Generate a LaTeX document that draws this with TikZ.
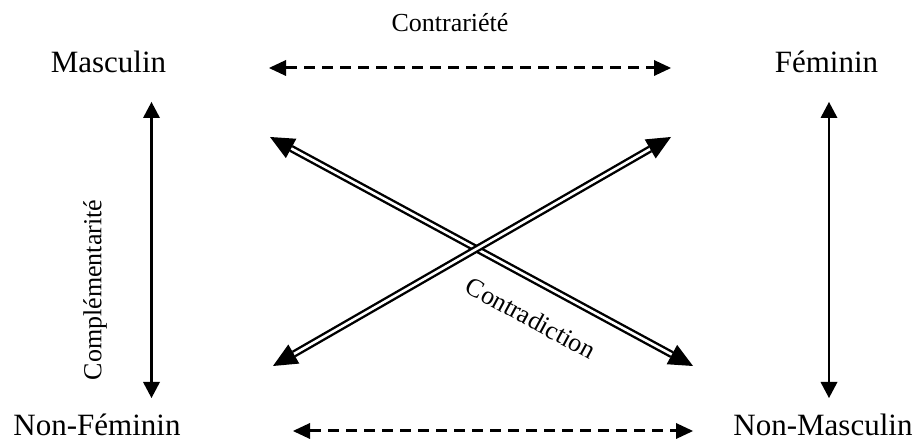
\documentclass[tikz,border=0pt]{standalone}
\usepackage{fontspec}
\setmainfont{Liberation Serif}
\usetikzlibrary{arrows.meta}
\begin{document}
\begin{tikzpicture}[x=1pt,y=1pt,
  bigtxt/.style={inner sep=0pt,font=\fontsize{31}{36}\selectfont},
  smalltxt/.style={inner sep=0pt,font=\fontsize{26}{30}\selectfont},
  dasharrow/.style={line width=3pt,dash pattern=on 11pt off 7pt,
    {Triangle[length=17pt,width=16pt,line width=0pt]}-{Triangle[length=17pt,width=16pt,line width=0pt]}},
  vertarrow/.style={line width=2.3pt,
    {Triangle[length=16pt,width=17pt,line width=0pt]}-{Triangle[length=16pt,width=17pt,line width=0pt]}},
  dblarrow/.style={line width=2.4pt,double,double distance=2.6pt,
    {Triangle[length=24pt,width=22pt,line width=0pt]}-{Triangle[length=24pt,width=22pt,line width=0pt]}}]
\useasboundingbox (0,0) rectangle (918,441);
% labels
\node[bigtxt,anchor=base] (masc) at (108.5,368) {Masculin};
\node[bigtxt,anchor=base] (fem) at (826.5,368) {Féminin};
\node[bigtxt,anchor=base] (nfem) at (97,5) {Non-Féminin};
\node[bigtxt,anchor=base] (nmasc) at (823,5) {Non-Masculin};
\node[smalltxt,anchor=base] (contrariete) at (450,409) {Contrariété};
% coordinates
\coordinate (t1) at (269,373);
\coordinate (t2) at (671,373);
\coordinate (b1) at (293,10);
\coordinate (b2) at (693,10);
\coordinate (l1) at (151.5,339);
\coordinate (l2) at (151.5,43);
\coordinate (r1) at (829,339);
\coordinate (r2) at (829,43);
\coordinate (a1) at (270,304);
\coordinate (a2) at (693,75);
\coordinate (c1) at (273,75);
\coordinate (c2) at (671,304);
% connectors
\draw[dasharrow] (t1) -- (t2);
\draw[dasharrow] (b1) -- (b2);
\draw[vertarrow] (l1) -- (l2);
\draw[vertarrow] (r1) -- (r2);
\draw[dblarrow] (a1) -- (a2);
\draw[dblarrow] (c1) -- (c2);
% rotated labels
\node[smalltxt,rotate=-28.4] (contradiction) at (531,123) {Contradiction};
\node[smalltxt,rotate=90] (compl) at (95,151) {Complémentarité};
\end{tikzpicture}
\end{document}
